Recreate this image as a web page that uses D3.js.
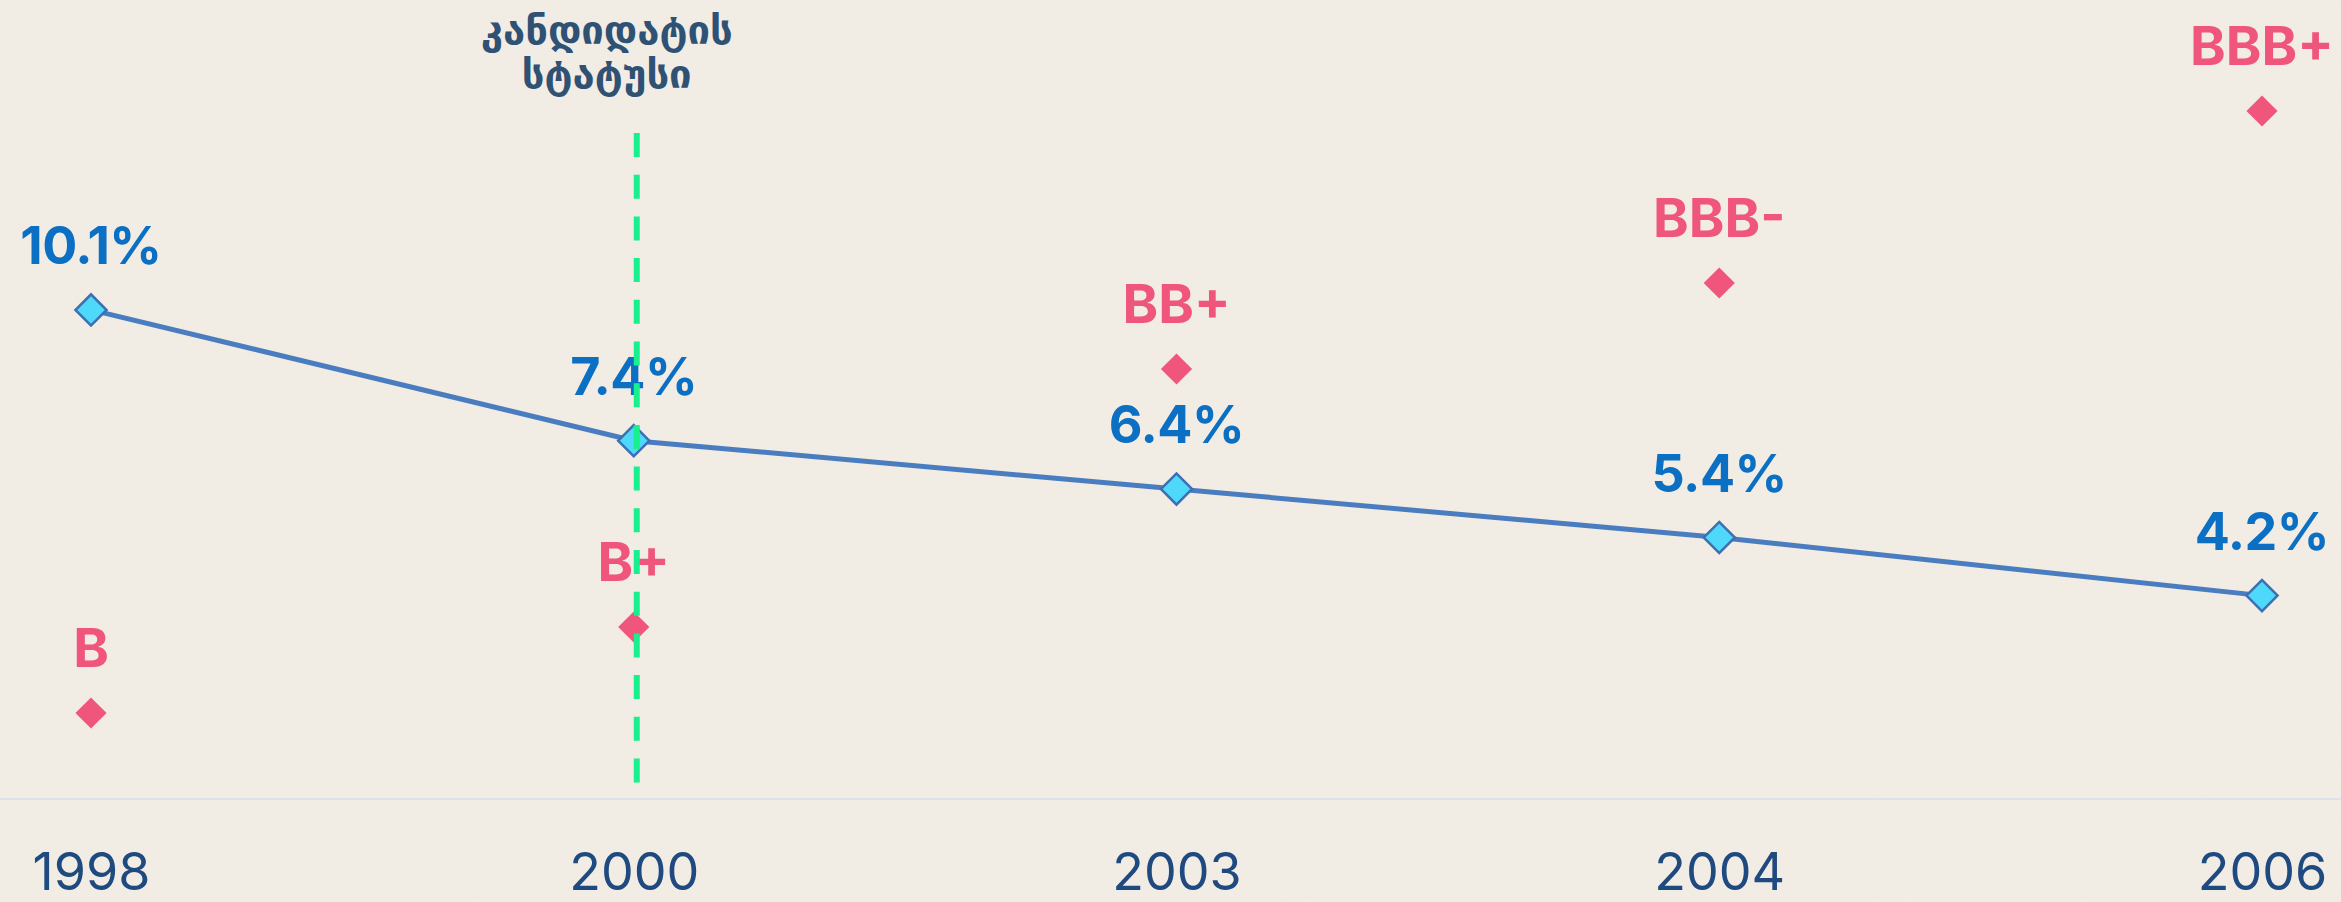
<!DOCTYPE html>
<head>
    <meta charset="utf-8">
    <title>Inflation and credit rating</title>
    <script src="https://d3js.org/d3.v7.min.js"></script>
    <style>
    body {
        margin: 0;
        background: #f2ede5;
        overflow: hidden;
    }
    text {
        font-family: Inter, "Noto Sans", sans-serif;
    }
    </style>
</head>

<body>
    <script>
    // data
    var years = ["1998", "2000", "2003", "2004", "2006"];
    var inflation = [10.1, 7.4, 6.4, 5.4, 4.2];
    var ratings = ["B", "B+", "BB+", "BBB-", "BBB+"];
    var ratingLadder = ["B-", "B", "B+", "BB-", "BB", "BB+", "BBB-", "BBB", "BBB+"];
    var markerYear = "2000";
    var markerLabel = ["კანდიდატის", "სტატუსი"];

    var width = 2341,
        height = 902,
        baseY = 799;

    var svg = d3.select("body").append("svg")
        .attr("width", width)
        .attr("height", height);

    // paper texture
    var defs = svg.append("defs");
    var f = defs.append("filter").attr("id", "paper")
        .attr("x", 0).attr("y", 0).attr("width", "100%").attr("height", "100%");
    f.append("feTurbulence").attr("type", "fractalNoise")
        .attr("baseFrequency", 0.9).attr("numOctaves", 2).attr("seed", 3);
    f.append("feColorMatrix").attr("type", "matrix")
        .attr("values", "0 0 0 0 0.75  0 0 0 0 0.68  0 0 0 0 0.62  0 0 0 0.35 -0.05");

    svg.append("rect")
        .attr("width", width).attr("height", height)
        .attr("fill", "#f2ede5");
    svg.append("rect")
        .attr("width", width).attr("height", height)
        .attr("filter", "url(#paper)")
        .attr("opacity", 0.35);

    var x = d3.scalePoint().domain(years).range([91, 2262]);
    var y = d3.scaleLinear().domain([0, 16.5]).range([baseY, 0]);
    var yr = d3.scaleLinear().domain([0, ratingLadder.length - 1]).range([baseY, 111]);

    var rows = years.map(function(d, i) {
        return { year: d, value: inflation[i], rating: ratings[i] };
    });

    // baseline + year axis
    svg.append("line")
        .attr("x1", 0).attr("x2", width)
        .attr("y1", baseY).attr("y2", baseY)
        .attr("stroke", "#dbe2ea")
        .attr("stroke-width", 2);

    var axis = svg.append("g")
        .attr("transform", "translate(0," + baseY + ")")
        .call(d3.axisBottom(x).tickSize(0).tickPadding(0));
    axis.select(".domain").remove();
    axis.selectAll("text")
        .attr("y", 91)
        .attr("dy", null)
        .attr("font-size", 52)
        .attr("font-weight", 400)
        .attr("fill", "#1f4a80")
        .style("font-family", "Inter, 'Noto Sans', sans-serif");

    var diamond = d3.symbol().type(d3.symbolSquare).size(22 * 22);

    // rating points
    var rg = svg.append("g");
    rg.selectAll("path")
        .data(rows)
        .enter().append("path")
            .attr("d", diamond)
            .attr("transform", function(d) {
                return "translate(" + x(d.year) + "," + yr(ratingLadder.indexOf(d.rating)) + ") rotate(45)";
            })
            .attr("fill", "#f0557b");
    rg.selectAll("text")
        .data(rows)
        .enter().append("text")
            .attr("x", function(d) { return x(d.year); })
            .attr("y", function(d) { return yr(ratingLadder.indexOf(d.rating)) - 46; })
            .attr("text-anchor", "middle")
            .attr("font-size", 54)
            .attr("font-weight", 700)
            .attr("fill", "#f0557b")
            .text(function(d) { return d.rating; });

    // inflation line
    var line = d3.line()
        .x(function(d) { return x(d.year); })
        .y(function(d) { return y(d.value); });

    svg.append("path")
        .datum(rows)
        .attr("d", line)
        .attr("fill", "none")
        .attr("stroke", "#4a7cc0")
        .attr("stroke-width", 5);

    var ig = svg.append("g");
    ig.selectAll("path")
        .data(rows)
        .enter().append("path")
            .attr("d", diamond)
            .attr("transform", function(d) {
                return "translate(" + x(d.year) + "," + y(d.value) + ") rotate(45)";
            })
            .attr("fill", "#4ed8f9")
            .attr("stroke", "#3d6fb3")
            .attr("stroke-width", 2.5);
    ig.selectAll("text")
        .data(rows)
        .enter().append("text")
            .attr("x", function(d) { return x(d.year); })
            .attr("y", function(d) { return y(d.value) - 46; })
            .attr("text-anchor", "middle")
            .attr("font-size", 52)
            .attr("font-weight", 700)
            .attr("letter-spacing", -0.5)
            .attr("fill", "#0b6fc3")
            .text(function(d) { return d.value + "%"; });

    // candidate status marker
    var mx = x(markerYear) + 3;
    svg.append("line")
        .attr("x1", mx).attr("x2", mx)
        .attr("y1", 133).attr("y2", 790)
        .attr("stroke", "#17f08c")
        .attr("stroke-width", 6)
        .attr("stroke-dasharray", "24 17.7");

    svg.append("g")
        .selectAll("text")
        .data(markerLabel)
        .enter().append("text")
            .attr("x", mx - 30)
            .attr("y", function(d, i) { return 44 + i * 44; })
            .attr("text-anchor", "middle")
            .attr("font-size", 40)
            .attr("font-weight", 700)
            .attr("fill", "#2f5274")
            .style("font-family", "'DejaVu Sans', sans-serif")
            .text(function(d) { return d; });
    </script>
</body>
